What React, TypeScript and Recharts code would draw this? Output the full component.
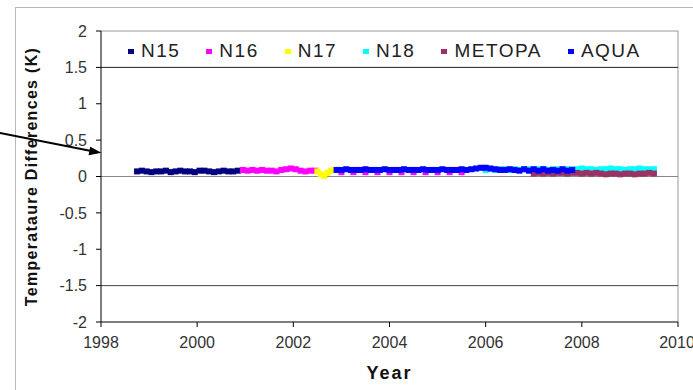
import React from 'react';
import {
  ScatterChart,
  Scatter,
  XAxis,
  YAxis,
  Legend,
  ReferenceLine,
} from 'recharts';

const yearTicks = [1998, 2000, 2002, 2004, 2006, 2008, 2010];
const diffTicks = [-2, -1.5, -1, -0.5, 0, 0.5, 1, 1.5, 2];

// [year, temperature difference (K)]
const n15 = [
  [1998.75, 0.07], [1998.85, 0.08], [1998.95, 0.07], [1999.05, 0.06], [1999.15, 0.07],
  [1999.25, 0.07], [1999.35, 0.08], [1999.45, 0.06], [1999.55, 0.07], [1999.65, 0.08],
  [1999.75, 0.07], [1999.85, 0.07], [1999.95, 0.06], [2000.05, 0.08], [2000.15, 0.08],
  [2000.25, 0.07], [2000.35, 0.06], [2000.45, 0.07], [2000.55, 0.08], [2000.65, 0.07],
  [2000.75, 0.07], [2000.85, 0.08],
];

const n16 = [
  [2000.95, 0.09], [2001.05, 0.08], [2001.15, 0.09], [2001.25, 0.08], [2001.35, 0.09],
  [2001.45, 0.08], [2001.55, 0.08], [2001.65, 0.07], [2001.75, 0.09], [2001.85, 0.1],
  [2001.95, 0.11], [2002.05, 0.1], [2002.15, 0.08], [2002.25, 0.07], [2002.35, 0.08],
  [2002.45, 0.08],
  [2003.0, 0.06], [2003.25, 0.06], [2003.5, 0.06], [2003.75, 0.06], [2004.0, 0.06],
  [2004.25, 0.06], [2004.5, 0.06], [2004.75, 0.06], [2005.0, 0.06], [2005.25, 0.06],
  [2005.5, 0.06],
];

const n17 = [
  [2002.5, 0.07], [2002.57, 0.03], [2002.64, 0.01], [2002.71, 0.05], [2002.78, 0.08],
  [2002.85, 0.09],
];

const n18 = [
  [2006.0, 0.09], [2006.1, 0.1], [2006.2, 0.09], [2006.3, 0.1], [2006.4, 0.1],
  [2006.5, 0.09], [2006.6, 0.1], [2006.7, 0.09], [2006.8, 0.1], [2006.9, 0.1],
  [2007.0, 0.09], [2007.1, 0.1], [2007.2, 0.1], [2007.3, 0.09], [2007.4, 0.1],
  [2007.5, 0.1], [2007.6, 0.09], [2007.7, 0.1], [2007.8, 0.1], [2007.9, 0.1],
  [2008.0, 0.11], [2008.1, 0.1], [2008.2, 0.1], [2008.3, 0.09], [2008.4, 0.1],
  [2008.5, 0.1], [2008.6, 0.11], [2008.7, 0.1], [2008.8, 0.1], [2008.9, 0.09],
  [2009.0, 0.1], [2009.1, 0.1], [2009.2, 0.11], [2009.3, 0.1], [2009.4, 0.1],
  [2009.5, 0.1],
];

const metopa = [
  [2007.0, 0.04], [2007.1, 0.05], [2007.2, 0.04], [2007.3, 0.05], [2007.4, 0.04],
  [2007.5, 0.05], [2007.6, 0.05], [2007.7, 0.04], [2007.8, 0.05], [2007.9, 0.05],
  [2008.0, 0.04], [2008.1, 0.05], [2008.2, 0.04], [2008.3, 0.05], [2008.4, 0.04],
  [2008.5, 0.03], [2008.6, 0.04], [2008.7, 0.04], [2008.8, 0.03], [2008.9, 0.04],
  [2009.0, 0.04], [2009.1, 0.03], [2009.2, 0.04], [2009.3, 0.04], [2009.4, 0.05],
  [2009.5, 0.04],
];

const aqua = [
  [2002.9, 0.09], [2003.0, 0.09], [2003.1, 0.1], [2003.2, 0.09], [2003.3, 0.09],
  [2003.4, 0.09], [2003.5, 0.1], [2003.6, 0.09], [2003.7, 0.09], [2003.8, 0.09],
  [2003.9, 0.1], [2004.0, 0.09], [2004.1, 0.09], [2004.2, 0.09], [2004.3, 0.1],
  [2004.4, 0.09], [2004.5, 0.09], [2004.6, 0.09], [2004.7, 0.1], [2004.8, 0.09],
  [2004.9, 0.09], [2005.0, 0.09], [2005.1, 0.1], [2005.2, 0.09], [2005.3, 0.09],
  [2005.4, 0.09], [2005.5, 0.1], [2005.6, 0.09], [2005.7, 0.1], [2005.8, 0.11],
  [2005.9, 0.12], [2006.0, 0.12], [2006.1, 0.11], [2006.2, 0.1], [2006.3, 0.09],
  [2006.4, 0.09], [2006.5, 0.1], [2006.6, 0.09], [2006.7, 0.08], [2006.8, 0.1],
  [2006.9, 0.08], [2007.0, 0.1], [2007.1, 0.08], [2007.2, 0.1], [2007.3, 0.08],
  [2007.4, 0.09], [2007.5, 0.08], [2007.6, 0.1], [2007.7, 0.08], [2007.8, 0.09],
];

const series = [
  { name: 'N15', color: '#000080', points: n15 },
  { name: 'N16', color: '#ff00ff', points: n16 },
  { name: 'N17', color: '#ffff00', points: n17 },
  { name: 'N18', color: '#00ffff', points: n18 },
  { name: 'METOPA', color: '#993366', points: metopa },
  { name: 'AQUA', color: '#0000ff', points: aqua },
];

const font = 'Arial, "Liberation Sans", sans-serif';

const toRows = (points: number[][]) => points.map(([year, diff]) => ({ year, diff }));

// small square marker, like the spreadsheet's default point style
const Dot = (props: any) => {
  const { cx, cy, fill } = props;
  if (cx == null || cy == null) return null;
  return <rect x={cx - 3} y={cy - 3} width={6} height={6} fill={fill} />;
};

const LegendBox = () => (
  <div
    style={{
      display: 'flex',
      alignItems: 'center',
      height: 37,
      paddingLeft: 27,
      paddingTop: 3,
      boxSizing: 'border-box',
      fontFamily: font,
      fontSize: 19,
      letterSpacing: 1.5,
      color: '#222',
    }}
  >
    {series.map((s) => (
      <div key={s.name} style={{ display: 'flex', alignItems: 'center', marginRight: 26 }}>
        <span style={{ width: 6, height: 5, background: s.color, marginRight: 7 }} />
        <span>{s.name}</span>
      </div>
    ))}
  </div>
);

export default function App() {
  return (
    <div
      style={{
        position: 'absolute',
        left: 0,
        top: 0,
        width: 693,
        height: 390,
        background: '#fff',
        overflow: 'hidden',
      }}
    >
      <div
        style={{
          position: 'absolute',
          left: 15,
          top: 7,
          width: 700,
          height: 400,
          borderLeft: '1px solid #b8b8b8',
          borderTop: '1px solid #b8b8b8',
        }}
      />
      <ScatterChart
        width={693}
        height={390}
        margin={{ top: 31, right: 15, bottom: 0, left: 0 }}
      >
        <XAxis
          type="number"
          dataKey="year"
          domain={[1998, 2010]}
          ticks={yearTicks}
          height={68}
          tickSize={5}
          tickMargin={10}
          stroke="#000"
          tick={{ fill: '#333', fontSize: 16, fontFamily: font }}
          label={{
            value: 'Year',
            position: 'insideBottom',
            offset: 11,
            style: { fontFamily: font, fontSize: 18, fontWeight: 'bold', letterSpacing: 2, fill: '#111' },
          }}
        />
        <YAxis
          type="number"
          dataKey="diff"
          domain={[-2, 2]}
          ticks={diffTicks}
          width={101}
          tickSize={5}
          tickMargin={9}
          stroke="#000"
          tick={{ fill: '#333', fontSize: 16, fontFamily: font }}
          label={{
            value: 'Temperataure Differences (K)',
            angle: -90,
            position: 'insideLeft',
            offset: 31,
            style: {
              fontFamily: font,
              fontSize: 16,
              fontWeight: 'bold',
              letterSpacing: 1.3,
              fill: '#111',
              textAnchor: 'middle',
            },
          }}
        />
        {/* plot frame and the few horizontal rules */}
        <ReferenceLine y={2} stroke="#999" />
        <ReferenceLine x={2010} stroke="#999" />
        <ReferenceLine y={1.5} stroke="#222" />
        <ReferenceLine y={0} stroke="#888" />
        <ReferenceLine y={-1.5} stroke="#444" />
        <Legend
          layout="horizontal"
          verticalAlign="middle"
          align="center"
          content={() => <LegendBox />}
          wrapperStyle={{ top: 31, left: 101, width: 577, height: 37 }}
        />
        {series.map((s) => (
          <Scatter
            key={s.name}
            name={s.name}
            data={toRows(s.points)}
            fill={s.color}
            shape={Dot}
            isAnimationActive={false}
          />
        ))}
      </ScatterChart>
      <svg
        width={693}
        height={390}
        style={{ position: 'absolute', left: 0, top: 0, pointerEvents: 'none' }}
      >
        <line x1={0} y1={133} x2={90} y2={150.8} stroke="#000" strokeWidth={2} />
        <polygon points="101.5,152.8 88.6,155.3 90.2,146.8" fill="#000" />
      </svg>
    </div>
  );
}
